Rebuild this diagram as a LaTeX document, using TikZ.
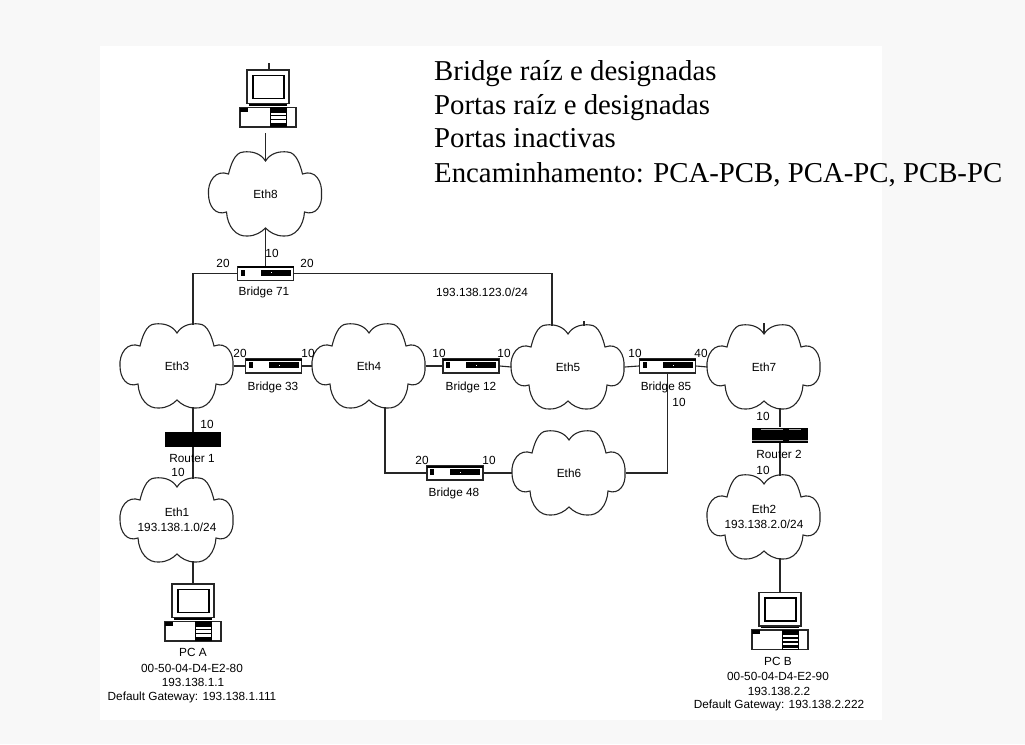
\documentclass[tikz,border=0pt]{standalone}
\usepackage{fontspec}
\setmainfont{Liberation Serif}
\newfontfamily\labfont{Liberation Sans}
\usetikzlibrary{calc}
\definecolor{pagegrey}{HTML}{F8F8F8}
\tikzset{
  link/.style={line width=1.1pt,black!85},
  cloudline/.style={line width=1.1pt,black!85,fill=white},
  cloudtext/.style={inner sep=0pt,minimum width=113pt,minimum height=67pt,align=center,font=\labfont\fontsize{11.8}{15}\selectfont},
  iconbox/.style={inner sep=0pt,minimum width=#1,minimum height=15pt},
  lab/.style={inner sep=0pt,font=\labfont\fontsize{11.8}{14}\selectfont},
  heading/.style={inner sep=0pt,anchor=base west,font=\fontsize{28.8}{30}\selectfont},
  iconline/.style={line width=1.1pt,black!85,fill=white},
}
\newcommand{\netcloud}[4]{%
\begin{scope}[shift={(#2,#3)}]
\draw[cloudline] (0,-33) .. controls (-5,-41) and (-14,-43) .. (-22,-42)
 .. controls (-31,-42) and (-35,-28) .. (-37,-20)
 .. controls (-50,-25) and (-58,-12) .. (-57,0)
 .. controls (-57,12) and (-50,22) .. (-39,18)
 .. controls (-38,33) and (-29,43) .. (-18,42)
 .. controls (-10,42) and (-4,38) .. (0,34)
 .. controls (4,38) and (10,42) .. (18,42)
 .. controls (29,43) and (38,33) .. (39,18)
 .. controls (50,22) and (57,12) .. (56,0)
 .. controls (57,-12) and (50,-25) .. (37,-20)
 .. controls (35,-28) and (31,-42) .. (22,-42)
 .. controls (14,-43) and (5,-41) .. (0,-33) -- cycle;
\node[cloudtext] (#1) at (0,0) {#4};
\coordinate (#1-tl) at (-16,-41);
\coordinate (#1-tr) at (16,-41);
\coordinate (#1-br) at (16,41);
\end{scope}}
\newcommand{\bridgeat}[3]{%
\begin{scope}[shift={(#2,#3)}]
\draw[iconline] (-28,-7) rectangle (28,7);
\draw[line width=1.8pt] (-28,-6.4) -- (28,-6.4);
\fill (-25,-4) rectangle (-21,2);
\fill (-5,-4) rectangle (25,2);
\fill[white] (5,-1.5) rectangle (6.2,-0.3);
\node[iconbox=57pt] (#1) at (0,0) {};
\end{scope}}
\newcommand{\routerat}[4]{%
\begin{scope}[shift={(#2,#3)}]
\fill[black] (-28,-7.5) rectangle (28,7.5);
#4
\node[iconbox=57pt] (#1) at (0,0) {};
\end{scope}}
\newcommand{\pcat}[3]{%
\begin{scope}[shift={(#2,#3)}]
\draw[iconline] (-21,-28.5) rectangle (21,5);
\draw[line width=1.8pt,fill=white] (-15,-23) rectangle (16,0);
\draw[line width=1.2pt] (-19,6.5) -- (19,6.5);
\draw[iconline] (-28,9) rectangle (28,28.5);
\fill (-28,9) rectangle (-20,13);
\fill (2,9) rectangle (18,14);
\fill (2,16) rectangle (18,17.5);
\fill (2,20) rectangle (18,21.5);
\fill (2,24) rectangle (18,27);
\draw[line width=0.9pt] (2,9) rectangle (18,28);
\node[inner sep=0pt,minimum width=57pt,minimum height=57pt] (#1) at (0,0) {};
\end{scope}}
\begin{document}
\begin{tikzpicture}[x=1pt,y=-1pt]
\useasboundingbox (0,0) rectangle (1025,744);
\fill[pagegrey] (0,0) rectangle (1025,744);
\fill[white] (100,46) rectangle (882,720);

% heading
\node[heading] (h1) at (434,80) {Bridge raíz e designadas};
\node[heading] (h2) at (434,114) {Portas raíz e designadas};
\node[heading] (h3) at (434,147) {Portas inactivas};
\node[heading] (h4) at (434,182) {Encaminhamento: PCA-PCB, PCA-PC, PCB-PC};

% clouds
\netcloud{eth8}{265.5}{194}{Eth8}
\netcloud{eth3}{177}{366}{Eth3}
\netcloud{eth4}{369}{366}{Eth4}
\netcloud{eth5}{568}{367}{Eth5}
\netcloud{eth6}{569}{473}{Eth6}
\netcloud{eth7}{764}{367}{Eth7}
\netcloud{eth1}{177}{520}{Eth1\\193.138.1.0/24}
\netcloud{eth2}{764}{517}{Eth2\\193.138.2.0/24}

% devices
\bridgeat{b71}{265.5}{273.5}
\bridgeat{b33}{273.5}{366}
\bridgeat{b12}{471}{366}
\bridgeat{b85}{667.5}{366}
\bridgeat{b48}{455}{473}
\routerat{r1}{193}{439.5}{}
\routerat{r2}{780}{435}{%
  \draw[gray!70,line width=1pt] (-19,-5.5) -- (3,-5.5) (9,-5.5) -- (21,-5.5);
  \draw[gray!70,line width=1pt] (-28,5.5) -- (3,5.5) (9,5.5) -- (28,5.5);}
\pcat{pc0}{268}{98.5}
\pcat{pca}{193}{612.5}
\pcat{pcb}{780}{621}

% free ends
\coordinate (pc0top) at (269,63);
\coordinate (pc0low) at (265.5,133);
\coordinate (eth7tick) at (764,323);
\coordinate (eth5tick) at (584,321);
\coordinate (eth5tickb) at (584,326);

% connectors
\draw[link] (pc0top) -- (pc0.north -| pc0top);
\draw[link] (pc0low) -- (eth8.north);
\draw[link] (eth8.south) -- (b71.north);
\draw[link] (b71.west) -| (eth3-tr);
\draw[link] (b71.east) -| (eth5-tl);
\draw[link] (eth3.east) -- (b33.west);
\draw[link] (b33.east) -- (eth4.west);
\draw[link] (eth4.east) -- (b12.west);
\draw[link] (b12.east) -- (eth5.west);
\draw[link] (eth5.east) -- (b85.west);
\draw[link] (b85.east) -- (eth7.west);
\draw[link] (eth4-br) |- (b48.west);
\draw[link] (b48.east) -- (eth6.west);
\draw[link] (eth6.east) -| (b85.south);
\draw[link] (eth3-br) -- (r1.north);
\draw[link] (r1.south) -- (eth1-tr);
\draw[link] (eth1-br) -- (pca.north);
\draw[link] (eth7-br) -- (r2.north);
\draw[link] (r2.south) -- (eth2-tr);
\draw[link] (eth2-br) -- (pcb.north);
\draw[link] (eth7tick) -- (eth7.north);
\draw[link] (eth5tick) -- (eth5tickb);

% labels
\node[lab] (l01) at (272,253) {10};
\node[lab] (l02) at (223,263) {20};
\node[lab] (l03) at (307,263) {20};
\node[lab] (l04) at (264,292) {Bridge 71};
\node[lab] (l05) at (482,292) {193.138.123.0/24};
\node[lab] (l06) at (240,353) {20};
\node[lab] (l07) at (308,353) {10};
\node[lab] (l08) at (273,387) {Bridge 33};
\node[lab] (l09) at (439,353) {10};
\node[lab] (l10) at (504,353) {10};
\node[lab] (l11) at (471,387) {Bridge 12};
\node[lab] (l12) at (635,353) {10};
\node[lab] (l13) at (701,353) {40};
\node[lab] (l14) at (666,387) {Bridge 85};
\node[lab] (l15) at (679,402) {10};
\node[lab] (l16) at (422,460) {20};
\node[lab] (l17) at (489,460) {10};
\node[lab] (l18) at (454,493) {Bridge 48};
\node[lab] (l19) at (207,424) {10};
\node[lab] (l20) at (192,458) {Router 1};
\node[lab] (l21) at (178,472) {10};
\node[lab] (l22) at (763,416) {10};
\node[lab] (l23) at (779,454) {Router 2};
\node[lab] (l24) at (763,470) {10};
\node[lab] (l25) at (193,652) {PC A};
\node[lab] (l26) at (192,668) {00-50-04-D4-E2-80};
\node[lab] (l27) at (193,682) {193.138.1.1};
\node[lab] (l28) at (192,697) {Default Gateway: 193.138.1.111};
\node[lab] (l29) at (778,661) {PC B};
\node[lab] (l30) at (778,676) {00-50-04-D4-E2-90};
\node[lab] (l31) at (779,691) {193.138.2.2};
\node[lab] (l32) at (779,705) {Default Gateway: 193.138.2.222};
\end{tikzpicture}
\end{document}
